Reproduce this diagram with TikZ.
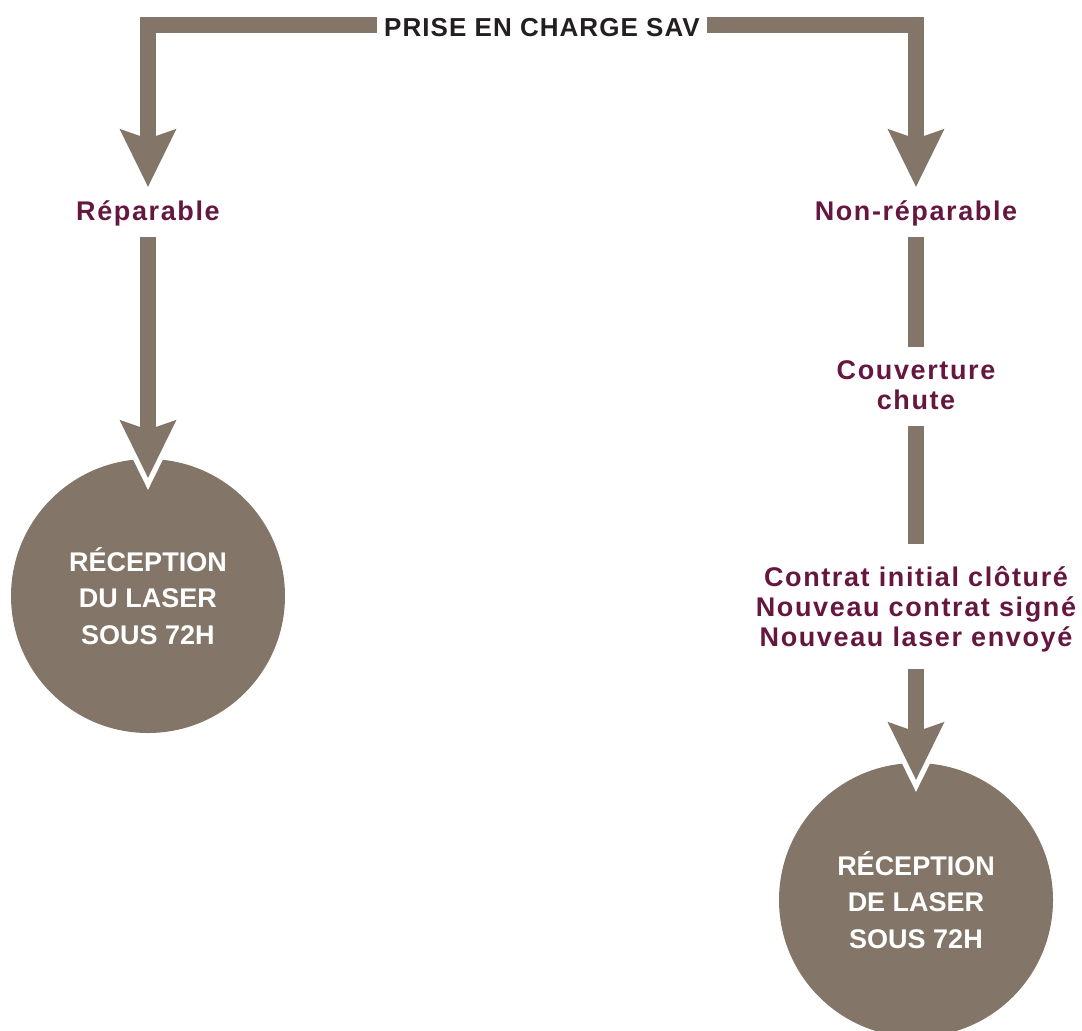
\documentclass[tikz,border=0pt]{standalone}
\usepackage{fontspec}
\setmainfont{Liberation Sans}
\usetikzlibrary{arrows.meta}
\definecolor{taupe}{HTML}{837668}
\definecolor{prune}{HTML}{66173F}
\definecolor{encre}{HTML}{231F20}
\tikzset{
  flow/.style={line width=16pt, draw=taupe},
  head/.style={-{Stealth[length=58pt, width=57pt, inset=10pt, line width=0pt]}},
  halo/.style={draw=white, -{Stealth[length=70pt, width=69pt, inset=12pt, line width=0pt]}},
  title/.style={text=encre, inner xsep=7pt, inner ysep=0pt, text height=22pt, text depth=0pt,
    font={\fontsize{26}{30}\selectfont\bfseries\addfontfeature{LetterSpace=4}}},
  lbl/.style={text=prune, inner sep=0pt, align=center,
    font={\fontsize{27}{30}\selectfont\bfseries\addfontfeature{LetterSpace=6}}},
  disc/.style={circle, fill=taupe, minimum size=274pt, inner sep=0pt, text=white, align=center,
    font={\fontsize{27}{36.5}\selectfont\bfseries}}
}
\begin{document}
\begin{tikzpicture}[x=1pt, y=-1pt]
\useasboundingbox (0,0) rectangle (1082,1031);

%circles
\node[disc] (recA) at (148,596) {RÉCEPTION\\DU LASER\\SOUS 72H};
\node[disc] (recB) at (916,900) {RÉCEPTION\\DE LASER\\SOUS 72H};

%labels
\node[title] (sav) at (542,25) {PRISE EN CHARGE SAV};
\node[lbl, text height=20pt, text depth=5pt] (rep) at (148,212.5) {Réparable};
\node[lbl, text height=20pt, text depth=5pt] (nonrep) at (916,212.5) {Non-réparable};
\node[lbl] (couv) at (916,385) {Couverture\\chute};
\node[lbl] (contrat) at (916,609) {Contrat initial clôturé\\Nouveau contrat signé\\Nouveau laser envoyé};

%branches
\draw[flow, head, shorten >=13pt] (sav.west) -| (rep.north);
\draw[flow, head, shorten >=13pt] (sav.east) -| (nonrep.north);

%left
\draw[flow, halo, shorten <=12pt, shorten >=-31pt] (rep.south) -- (recA.north);
\draw[flow, head, shorten <=12pt, shorten >=-19pt] (rep.south) -- (recA.north);

%right
\draw[flow, shorten <=12pt, shorten >=13pt] (nonrep.south) -- (couv.north);
\draw[flow, shorten <=16pt, shorten >=22pt] (couv.south) -- (contrat.north);
\draw[flow, halo, shorten <=17pt, shorten >=-29pt] (contrat.south) -- (recB.north);
\draw[flow, head, shorten <=17pt, shorten >=-17pt] (contrat.south) -- (recB.north);
\end{tikzpicture}
\end{document}
